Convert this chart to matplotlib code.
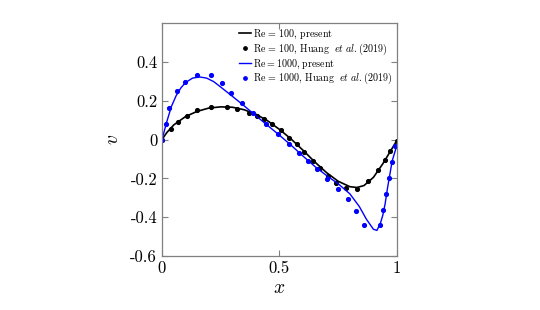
import matplotlib
matplotlib.use("Agg")
from matplotlib import pyplot as plt

plt.rcParams['font.family'] = 'serif'
plt.rcParams['font.serif'] = ['cmr10', 'DejaVu Serif']
plt.rcParams['mathtext.fontset'] = 'cm'
plt.rcParams['axes.unicode_minus'] = False

# Re = 100, present (line)
x100 = [0, 0.02, 0.05, 0.1, 0.15, 0.2, 0.25, 0.3, 0.35, 0.4, 0.45, 0.5, 0.55, 0.6,
        0.65, 0.7, 0.75, 0.8, 0.83, 0.86, 0.9, 0.94, 0.97, 1.0]
v100 = [0, 0.035, 0.075, 0.118, 0.145, 0.162, 0.168, 0.166, 0.153, 0.130, 0.096, 0.052,
        0.002, -0.055, -0.115, -0.170, -0.215, -0.243, -0.247, -0.237, -0.195, -0.125,
        -0.065, -0.005]

# Re = 100, Huang et al. (dots)
xh100 = [0, 0.038, 0.069, 0.105, 0.148, 0.21, 0.278, 0.32, 0.371, 0.403, 0.434, 0.467,
         0.505, 0.542, 0.573, 0.606, 0.641, 0.672, 0.708, 0.74, 0.783, 0.831, 0.878,
         0.918, 0.949, 0.970, 1.0]
vh100 = [0, 0.053, 0.092, 0.123, 0.150, 0.169, 0.169, 0.155, 0.138, 0.123, 0.104, 0.079,
         0.048, 0.010, -0.024, -0.065, -0.109, -0.147, -0.186, -0.224, -0.250, -0.253,
         -0.212, -0.155, -0.104, -0.058, -0.01]

# Re = 1000, present (line)
x1000 = [0, 0.02, 0.04, 0.06, 0.08, 0.1, 0.13, 0.16, 0.19, 0.22, 0.25, 0.3, 0.35, 0.4,
         0.45, 0.5, 0.55, 0.6, 0.65, 0.7, 0.75, 0.8, 0.84, 0.87, 0.9, 0.915, 0.93, 0.94,
         0.95, 0.96, 0.97, 0.98, 1.0]
v1000 = [0, 0.09, 0.17, 0.225, 0.265, 0.293, 0.316, 0.322, 0.316, 0.298, 0.270, 0.222,
         0.173, 0.122, 0.072, 0.022, -0.030, -0.085, -0.138, -0.185, -0.228, -0.280,
         -0.345, -0.41, -0.462, -0.468, -0.43, -0.39, -0.33, -0.25, -0.18, -0.11, -0.03]

# Re = 1000, Huang et al. (dots)
xh1000 = [0, 0.016, 0.031, 0.062, 0.099, 0.148, 0.207, 0.254, 0.295, 0.340, 0.389,
          0.443, 0.492, 0.542, 0.583, 0.620, 0.658, 0.701, 0.748, 0.793, 0.828, 0.861,
          0.928, 0.942, 0.953, 0.967, 0.979, 0.991]
vh1000 = [0, 0.080, 0.161, 0.251, 0.294, 0.332, 0.332, 0.289, 0.241, 0.190, 0.135,
          0.079, 0.027, -0.022, -0.072, -0.109, -0.150, -0.203, -0.253, -0.308, -0.369,
          -0.438, -0.441, -0.361, -0.279, -0.198, -0.116, -0.036]

xticks = [0, 0.5, 1]
xticklabels = ['0', '0.5', '1']
yticks = [-0.6, -0.4, -0.2, 0, 0.2, 0.4]
yticklabels = ['-0.6', '-0.4', '-0.2', '0', '0.2', '0.4']

fig = plt.figure(figsize=(5.4, 3.1), dpi=100)
ax = fig.add_axes([0.30, 0.174, 0.435, 0.752])

ax.plot(x100, v100, color='k', lw=1.2, label=r'$\mathrm{Re}\,=\,100,\,\mathrm{present}$')
ax.plot(xh100, vh100, 'o', color='k', ms=2.7, ls='none',
        label=r'$\mathrm{Re}\,=\,100,\,\mathrm{Huang}\ \ et\ al.\mathrm{(2019)}$')
ax.plot(x1000, v1000, color='#0000ff', lw=1.0, label=r'$\mathrm{Re{=}1000,\,present}$')
ax.plot(xh1000, vh1000, 'o', color='#0000ff', ms=2.7, ls='none',
        label=r'$\mathrm{Re}\,=\,1000,\,\mathrm{Huang}\ \ et\ al.\mathrm{(2019)}$')

ax.set_xlim(0, 1)
ax.set_ylim(-0.6, 0.6)
ax.set_xticks(xticks)
ax.set_xticklabels(xticklabels)
ax.set_yticks(yticks)
ax.set_yticklabels(yticklabels)
ax.tick_params(direction='in', top=True, right=True, labelsize=12, length=4,
               color='#808080', width=0.8)
for s in ax.spines.values():
    s.set_color('#808080')
    s.set_linewidth(0.9)

ax.set_xlabel(r'$x$', fontsize=14, labelpad=2)
ax.set_ylabel(r'$v$', fontsize=14, labelpad=6)

ax.legend(loc='upper right', bbox_to_anchor=(1.0, 1.0), frameon=False, fontsize=7.2,
          handlelength=1.2, handletextpad=0.2, labelspacing=0.05, borderpad=0.15,
          borderaxespad=0.3, markerscale=0.9)

plt.savefig("out.png", dpi=100)
